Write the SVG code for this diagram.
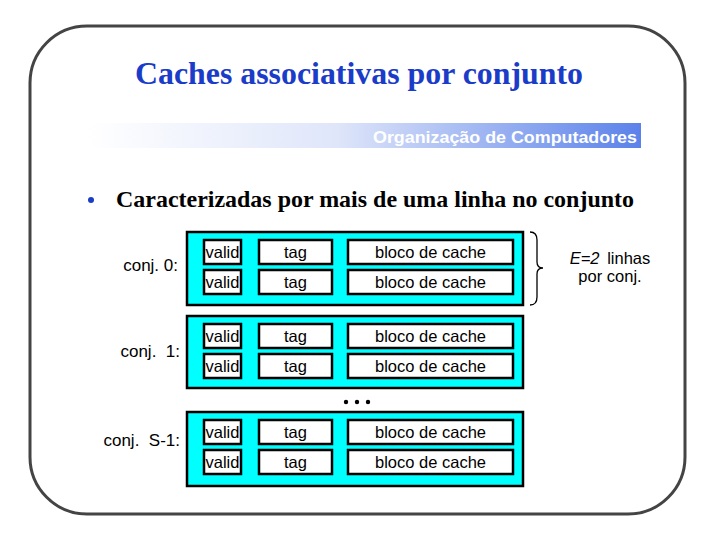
<svg xmlns="http://www.w3.org/2000/svg" width="720" height="540" viewBox="0 0 720 540">
<defs>
<linearGradient id="band" x1="0" y1="0" x2="1" y2="0">
<stop offset="0" stop-color="#ffffff"/>
<stop offset="0.45" stop-color="#dfe6fa"/>
<stop offset="1" stop-color="#5b82ea"/>
</linearGradient>
<style>
.set{fill:#00ffff;stroke:#000;stroke-width:2.5}
.cell{fill:#fff;stroke:#000;stroke-width:2.5}
.t{font-family:"Liberation Sans",Arial,sans-serif;font-size:16.5px;fill:#000}
.lbl{font-family:"Liberation Sans",Arial,sans-serif;font-size:17px;fill:#000;text-anchor:end}
.c{text-anchor:middle}
</style>
<g id="row">
<rect class="cell" x="204" y="0" width="37" height="24"/>
<text class="t c" x="222.5" y="18">valid</text>
<rect class="cell" x="259" y="0" width="73" height="24"/>
<text class="t c" x="295.5" y="18">tag</text>
<rect class="cell" x="348" y="0" width="165" height="24"/>
<text class="t c" x="430.5" y="18">bloco de cache</text>
</g>
</defs>
<rect width="720" height="540" fill="#fff"/>
<rect x="30" y="26" width="655" height="488" rx="57" ry="57" fill="none" stroke="#444" stroke-width="3"/>
<text x="135" y="84" textLength="448" lengthAdjust="spacingAndGlyphs" font-family="Liberation Serif,'Times New Roman',serif" font-weight="bold" font-size="31" fill="#1a3cc8">Caches associativas por conjunto</text>
<rect x="88" y="123" width="553" height="25" fill="url(#band)"/>
<text x="373" y="143" textLength="264" lengthAdjust="spacingAndGlyphs" font-family="Liberation Sans,Arial,sans-serif" font-weight="bold" font-size="17" fill="#fff">Organização de Computadores</text>
<circle cx="91" cy="200" r="3" fill="#1a3cc8"/>
<text x="116" y="207" textLength="518" lengthAdjust="spacingAndGlyphs" font-family="Liberation Serif,'Times New Roman',serif" font-weight="bold" font-size="23.5" fill="#000">Caracterizadas por mais de uma linha no conjunto</text>

<g id="set0">
<rect class="set" x="187" y="232" width="336" height="73"/>
<use href="#row" y="240"/>
<use href="#row" y="270"/>
<text class="lbl" x="178" y="271">conj. 0:</text>
</g>
<g id="set1">
<rect class="set" x="187" y="316" width="336" height="72"/>
<use href="#row" y="324"/>
<use href="#row" y="354"/>
<text class="lbl" x="180" y="357" xml:space="preserve">conj.  1:</text>
</g>
<g id="dots" fill="#000">
<circle cx="346" cy="402" r="2.2"/>
<circle cx="357" cy="402" r="2.2"/>
<circle cx="368" cy="402" r="2.2"/>
</g>
<g id="setS">
<rect class="set" x="187" y="412" width="336" height="74"/>
<use href="#row" y="420"/>
<use href="#row" y="450"/>
<text class="lbl" x="180" y="446" xml:space="preserve">conj.  S-1:</text>
</g>
<g id="brace">
<path d="M530 232 Q537 232 537 240 L537 262 Q537 268 543 268 Q537 268 537 274 L537 297 Q537 305 530 305" fill="none" stroke="#000" stroke-width="1.3"/>
<text class="t c" x="610" y="264" font-size="16"><tspan font-style="italic">E=2</tspan> <tspan dx="3">linhas</tspan></text>
<text class="t c" x="610" y="282" font-size="16">por conj.</text>
</g>
</svg>
